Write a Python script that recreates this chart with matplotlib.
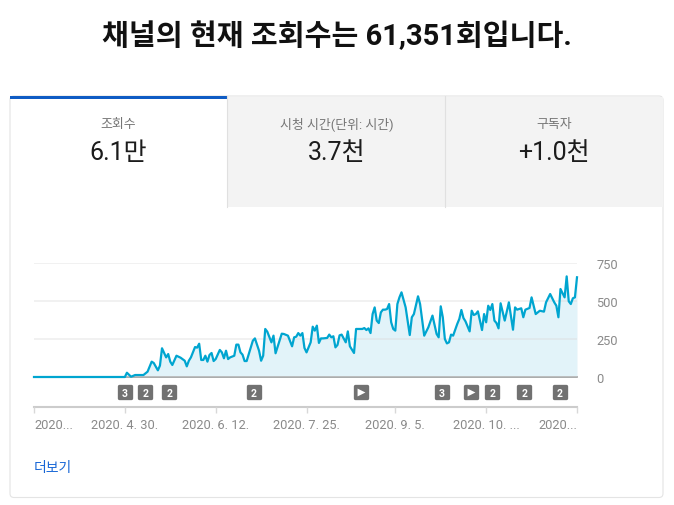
import matplotlib
matplotlib.use("Agg")
import matplotlib.pyplot as plt
from matplotlib.markers import MarkerStyle
from matplotlib.patches import FancyBboxPatch, Rectangle
from matplotlib.transforms import blended_transform_factory

plt.rcParams["font.family"] = ["Roboto", "Noto Sans CJK KR", "DejaVu Sans"]

title = "채널의 현재 조회수는 61,351회입니다."
tab_names = ["조회수", "시청 시간(단위: 시간)", "구독자"]
tab_values = ["6.1만", "3.7천", "+1.0천"]

# sample index along the x axis, views
days = [0, 44, 45, 47, 49, 51, 53, 55, 57, 58, 60, 61, 62, 64, 65, 66, 67, 69, 71, 73, 74, 75, 76, 78, 79, 80,
        81, 82, 83, 84, 85, 86, 87, 88, 90, 91, 92, 93, 94, 95, 97, 98, 99, 100, 101, 102, 103, 106, 107, 109,
        110, 111, 112, 113, 115, 116, 117, 120, 121, 123, 125, 126, 127, 128, 129, 130, 131, 132, 134, 135, 136,
        137, 138, 139, 140, 142, 143, 144, 145, 146, 147, 148, 149, 151, 152, 153, 155, 156, 158, 159, 160, 161,
        162, 163, 164, 165, 166, 167, 168, 169, 170, 171, 172, 173, 174, 175, 176, 177, 178, 180, 182, 183, 184,
        186, 187, 189, 191, 193, 195, 196, 197, 198, 199, 200, 201, 202, 203, 205, 206, 207, 208, 209, 211, 212,
        213, 214, 215, 217, 218, 219, 220, 221, 222, 223, 224, 225, 226, 228, 230, 232, 233, 234, 236, 237, 238,
        240, 241, 243, 245, 247, 248, 250, 252, 253, 254, 255, 257, 258, 259, 260, 261, 262, 263]
views = [0, 0, 28, 2, 13, 13, 13, 35, 101, 92, 44, 75, 189, 129, 151, 101, 79, 140, 127, 107, 70, 107, 129, 197, 193, 219,
         112, 112, 140, 101, 145, 158, 105, 118, 178, 162, 123, 173, 118, 129, 140, 213, 213, 162, 147, 105, 105, 239, 254, 173,
         107, 140, 316, 298, 228, 272, 156, 285, 283, 272, 202, 261, 265, 289, 272, 289, 191, 162, 228, 331, 305,
         338, 224, 254, 254, 257, 279, 261, 268, 195, 211, 274, 279, 228, 300, 202, 158, 316, 316, 316, 322, 309,
         320, 289, 414, 458, 371, 355, 425, 443, 443, 447, 480, 360, 316, 305, 480, 524, 557, 458, 276, 393, 414,
         531, 480, 272, 327, 404, 283, 261, 465, 393, 250, 221, 228, 279, 272, 349, 382, 441, 388, 366, 300, 436,
         408, 414, 432, 309, 414, 360, 469, 441, 480, 371, 355, 320, 485, 371, 491, 311, 458, 443, 452, 393, 443,
         454, 524, 414, 436, 430, 491, 546, 491, 469, 393, 579, 524, 662, 498, 480, 518, 524, 656]

y_ticks = [0, 250, 500, 750]
x_ticks = [0, 44, 88, 132, 175, 219, 263]
x_labels = ["2020...", "2020. 4. 30.", "2020. 6. 12.", "2020. 7. 25.", "2020. 9. 5.", "2020. 10. ...", "2020..."]

badge_days = [44, 54, 65.5, 106.5, 158.5, 197.5, 211.7, 222, 237.5, 254.7]
badge_labels = ["3", "2", "2", "2", "", "3", "", "2", "2", "2"]

W, H = 674, 506
fig = plt.figure(figsize=(W / 100, H / 100), dpi=100, facecolor="white")

# page furniture in pixel coordinates
bg = fig.add_axes([0, 0, 1, 1])
bg.set_xlim(0, W)
bg.set_ylim(H, 0)
bg.axis("off")

bg.text(337, 36, title, ha="center", va="center", fontsize=21, fontweight="bold", color="#111111")
bg.add_patch(FancyBboxPatch((10, 97), 653, 401.5, boxstyle="round,pad=0,rounding_size=4",
                            fc="white", ec="#e4e4e4", lw=0.8))
bg.add_patch(Rectangle((227, 97.5), 435.5, 110.5, fc="#f3f3f3", ec="none"))
bg.plot([227, 227], [97, 208], color="#e0e0e0", lw=0.8)
bg.plot([445, 445], [97, 208], color="#e0e0e0", lw=0.8)
bg.add_patch(Rectangle((10, 97), 217, 3, fc="#0f5cc4", ec="none"))

for cx, name, value in zip([118, 337, 554], tab_names, tab_values):
    bg.text(cx, 124.5, name, ha="center", va="center", fontsize=9.3, color="#757575")
    bg.text(cx, 153, value, ha="center", va="center", fontsize=18, color="#1c1c1c")

bg.text(34, 468.5, "더보기", ha="left", va="center", fontsize=10, color="#1766d6")

# the chart itself
ax = fig.add_axes([34 / W, (H - 378) / H, 543 / W, 114 / H])
ax.patch.set_alpha(0)
ax.set_xlim(0, 263)
ax.set_ylim(0, 750)

ax.fill_between(days, views, 0, color="#e2f3f9", lw=0, zorder=1)
ax.grid(axis="y", color="#dcdcdc", lw=1.4, alpha=0.4, zorder=2)
ax.set_axisbelow(False)
ax.axhline(0, color="#9e9e9e", lw=1.2, zorder=2, clip_on=False)
ax.plot(days, views, color="#00a5d0", lw=1.6, zorder=3, clip_on=False)

for name in ["top", "left", "right"]:
    ax.spines[name].set_visible(False)
ax.spines["bottom"].set_position(("outward", 30 * 0.72))
ax.spines["bottom"].set_color("#cccccc")
ax.spines["bottom"].set_linewidth(1.5)

ax.yaxis.tick_right()
ax.set_yticks(y_ticks)
ax.tick_params(axis="y", length=0, pad=14, labelsize=9.3, labelcolor="#8a8a8a")
ax.set_xticks(x_ticks)
ax.set_xticklabels(x_labels)
ax.tick_params(axis="x", length=4, width=1, color="#d8d8d8", pad=4, labelsize=9.3, labelcolor="#8a8a8a")
tick_text = ax.get_xticklabels()
tick_text[0].set_ha("left")
tick_text[-1].set_ha("right")
for t in tick_text:
    t.set_clip_on(False)

# annotation badges below the baseline
trans = blended_transform_factory(ax.transData, ax.transAxes)
badge_y = -15 / 114
ax.scatter(badge_days, [badge_y] * len(badge_days), transform=trans, clip_on=False,
           marker=MarkerStyle("s", joinstyle="round"), s=85, color="#717171",
           edgecolors="#717171", linewidths=2.4, zorder=4)
for d, label in zip(badge_days, badge_labels):
    if label:
        ax.text(d, badge_y, label, transform=trans, ha="center", va="center_baseline",
                fontsize=7.5, fontweight="bold", color="white", zorder=5)
    else:
        ax.scatter([d], [badge_y], transform=trans, clip_on=False, marker=">", s=32,
                   color="white", linewidths=0, zorder=5)

fig.savefig("out.png", dpi=100)
